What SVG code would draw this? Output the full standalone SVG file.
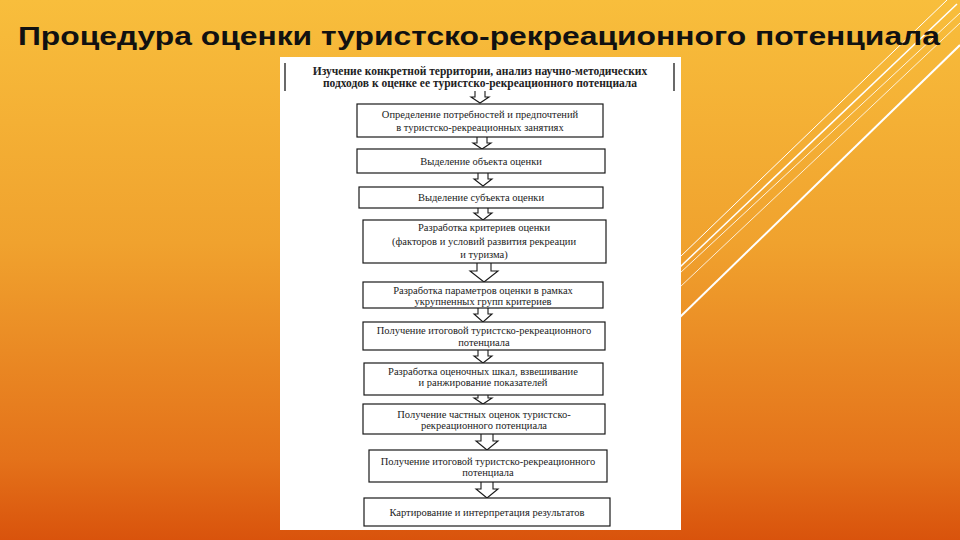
<svg xmlns="http://www.w3.org/2000/svg" width="960" height="540" viewBox="0 0 960 540">
<defs>
<linearGradient id="bg" x1="0" y1="0" x2="0" y2="1">
<stop offset="0" stop-color="#F8BE3C"/>
<stop offset="0.45" stop-color="#F0A22E"/>
<stop offset="0.85" stop-color="#E4721A"/>
<stop offset="1" stop-color="#D9530C"/>
</linearGradient>
<style>
.box{fill:#fff;stroke:#1a1a1a;stroke-width:1.2}
.arr{fill:#fff;stroke:#1a1a1a;stroke-width:1.1;stroke-linejoin:miter}
.t{font-family:"Liberation Serif","Times New Roman",serif;font-size:10.5px;fill:#222;text-anchor:middle}
.tb{font-family:"Liberation Serif","Times New Roman",serif;font-size:11.5px;font-weight:bold;fill:#222;text-anchor:middle}
.ttl{font-family:"Liberation Sans",Arial,sans-serif;font-size:25px;font-weight:bold;fill:#111}
.dl{stroke:#fff;fill:none}
</style>
</defs>
<rect x="0" y="0" width="960" height="540" fill="url(#bg)"/>
<g id="deco">
<line class="dl" x1="680" y1="257" x2="947" y2="0" stroke="#FFE9A0" stroke-width="1"/>
<line class="dl" x1="680" y1="267" x2="957" y2="4" stroke-width="1.5"/>
<line class="dl" x1="680" y1="273" x2="960" y2="13" stroke-width="1" stroke-opacity="0.85"/>
<line class="dl" x1="680" y1="287" x2="960" y2="23" stroke-width="1" stroke-opacity="0.8"/>
<line class="dl" x1="680" y1="317" x2="960" y2="45" stroke-width="2"/>
</g>
<text class="ttl" x="18" y="45" textLength="922" lengthAdjust="spacingAndGlyphs">Процедура оценки туристско-рекреационного потенциала</text>
<rect id="panel" x="280" y="57" width="401" height="473" fill="#fff"/>
<g id="connectors">
<path class="arr" d="M475,91 V97 H471 L480,103 L489,97 H485 V91"/>
<path class="arr" d="M477,137 V143 H473 L482,149 L491,143 H487 V137"/>
<path class="arr" d="M478,173 V179 H474 L483,186 L492,179 H488 V173"/>
<path class="arr" d="M478,208 V213 H474 L483,220 L492,213 H488 V208"/>
<path class="arr" d="M477,263 V271 H470 L484,282 L498,271 H491 V263"/>
<path class="arr" d="M478,308 V314 H474 L483,322 L492,314 H488 V308"/>
<path class="arr" d="M478,350 V356 H474 L483,363 L492,356 H488 V350"/>
<path class="arr" d="M478,395 V398 H474 L483,404 L492,398 H488 V395"/>
<path class="arr" d="M481,434 V441 H476 L487,450 L498,441 H493 V434"/>
<path class="arr" d="M481,482 V489 H476 L487,498 L498,489 H493 V482"/>
</g>
<g id="n1">
<line x1="285" y1="63" x2="285" y2="91" stroke="#1a1a1a" stroke-width="1.3"/>
<line x1="674" y1="63" x2="674" y2="91" stroke="#1a1a1a" stroke-width="1.3"/>
<text class="tb" x="480" y="75">Изучение конкретной территории, анализ научно-методических</text>
<text class="tb" x="480" y="87">подходов к оценке ее туристско-рекреационного потенциала</text>
</g>
<g id="n2"><rect class="box" x="357" y="104" width="246" height="33"/>
<text class="t" x="480" y="118">Определение потребностей и предпочтений</text>
<text class="t" x="480" y="131">в туристско-рекреационных занятиях</text></g>
<g id="n3"><rect class="box" x="357" y="149" width="248" height="24"/>
<text class="t" x="481" y="165">Выделение объекта оценки</text></g>
<g id="n4"><rect class="box" x="359" y="187" width="244" height="21"/>
<text class="t" x="481" y="201">Выделение субъекта оценки</text></g>
<g id="n5"><rect class="box" x="363" y="220" width="243" height="43"/>
<text class="t" x="484" y="231">Разработка критериев оценки</text>
<text class="t" x="484" y="245">(факторов и условий развития рекреации</text>
<text class="t" x="484" y="258">и туризма)</text></g>
<g id="n6"><rect class="box" x="363" y="282" width="240" height="26"/>
<text class="t" x="483" y="294">Разработка параметров оценки в рамках</text>
<text class="t" x="483" y="305">укрупненных групп критериев</text></g>
<g id="n7"><rect class="box" x="363" y="322" width="242" height="28"/>
<text class="t" x="484" y="334">Получение итоговой туристско-рекреационного</text>
<text class="t" x="484" y="346">потенциала</text></g>
<g id="n8"><rect class="box" x="364" y="363" width="239" height="32"/>
<text class="t" x="483" y="375">Разработка оценочных шкал, взвешивание</text>
<text class="t" x="483" y="386">и ранжирование показателей</text></g>
<g id="n9"><rect class="box" x="363" y="404" width="242" height="30"/>
<text class="t" x="484" y="418">Получение частных оценок туристско-</text>
<text class="t" x="484" y="429">рекреационного потенциала</text></g>
<g id="n10"><rect class="box" x="369" y="450" width="238" height="32"/>
<text class="t" x="488" y="465">Получение итоговой туристско-рекреационного</text>
<text class="t" x="488" y="476">потенциала</text></g>
<g id="n11"><rect class="box" x="364" y="498" width="246" height="28"/>
<text class="t" x="487" y="516">Картирование и интерпретация результатов</text></g>
</svg>
